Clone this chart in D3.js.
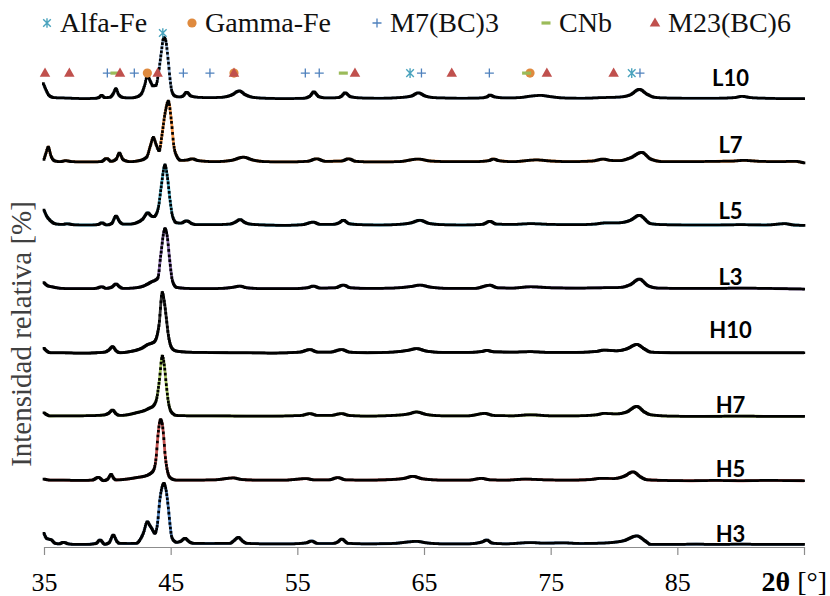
<!DOCTYPE html>
<html><head><meta charset="utf-8">
<script src="https://cdn.jsdelivr.net/npm/d3@7"></script>
<style>body{margin:0;background:#fff} svg{display:block}</style>
</head><body>
<svg id="chart" width="830" height="596"></svg>
<script>
// ---------- DATA ----------
const sampleNames = ["L10","L7","L5","L3","H10","H7","H5","H3"];
const sampleOffsets = [700,600,500,400,300,200,100,0];
const sampleColors = ["#95b3d7","#f79646","#4bacc6","#8064a2","#303030","#9bbb59","#c0504d","#4f81bd"];

const L10 = [[34.95,27.5],[35.15,18],[35.4,9],[35.8,5.5],[36.5,5],[37.2,4.5],[38.2,4],[39.1,4.5],[39.35,6],[39.55,9],[39.8,5.5],[40.2,6],[40.45,11],[40.68,19.5],[40.9,10],[41.3,5.5],[41.8,5],[42.3,6.5],[42.7,12],[42.95,25],[43.16,40],[43.4,31],[43.6,24],[43.84,25],[44.05,45],[44.25,75],[44.45,100],[44.6,96],[44.8,65],[44.95,35],[45.1,15],[45.35,8],[45.7,6.5],[46.0,8.5],[46.26,14],[46.6,8],[47.2,6],[48.0,5.5],[49.0,6],[49.8,9.5],[50.42,16],[50.9,10],[51.5,6],[52.5,4.5],[54,4],[55.5,4.5],[56.0,8],[56.3,14.5],[56.7,7],[57.3,5],[58.2,5.5],[58.5,8],[58.76,13],[59.2,7],[60,5],[61.5,4.5],[63,5.5],[64,8],[64.55,13],[65.1,8],[65.8,5.5],[66.5,5],[68,4.5],[69.5,5],[70.0,7],[70.2,9.5],[70.6,6.5],[71.5,5],[72.5,5.5],[73.5,8],[74.2,9],[75,7],[76,5],[77.5,4.5],[79,5.5],[80.5,6.5],[81.3,10],[82.0,18.5],[82.6,11],[83.2,6],[84,5],[86,4.5],[88,4.5],[89.5,5.5],[90.1,7.5],[90.8,5.5],[92,4.5],[93.5,4],[95,4]];
const L7 = [[35.0,8.6],[35.15,18],[35.34,28],[35.55,14],[35.87,6],[36.3,5],[36.7,6.5],[37.2,5],[38.3,4.5],[39.5,5],[39.95,10],[40.3,5.5],[40.7,9],[40.95,18.5],[41.25,8],[41.8,5],[42.5,6.5],[43.1,12],[43.4,30],[43.63,43],[43.85,32],[44.1,22],[44.3,45],[44.55,80],[44.82,100],[45.05,70],[45.25,30],[45.47,14],[45.8,7],[46.3,7.5],[46.7,9.5],[47.2,6.5],[48.5,5],[49.8,7],[50.74,12],[51.5,7.5],[52.5,5],[54,4.5],[55.8,5.5],[56.53,9.5],[57.2,5.5],[58.5,6],[59.03,9.5],[59.6,5.5],[61,4.5],[63,5],[64.55,9],[65.5,6],[67,5],[69,5],[70.1,6.5],[70.47,9.2],[70.9,6.5],[72,5],[73.9,7.7],[75,6],[76.5,5],[78.3,6],[79.15,9],[79.7,7],[80.4,6.5],[81.3,11],[82.19,19.5],[82.9,9],[83.9,5],[86,5],[88,5.5],[89.5,6],[90.2,7],[91.5,5.5],[93,5],[94.3,5.5],[95,3]];
const L5 = [[35.0,29],[35.2,20],[35.47,13],[36.0,7],[36.5,6.5],[36.8,7.5],[37.3,6],[37.9,5.5],[38.8,5.5],[39.3,6.5],[39.55,9],[39.95,5.5],[40.35,8],[40.68,19.5],[41.0,10],[41.26,7],[41.8,7],[42.3,9],[42.8,15],[43.2,24.8],[43.45,20],[43.66,18.5],[43.85,22],[44.05,35],[44.25,65],[44.55,100],[44.75,80],[44.95,45],[45.16,18.5],[45.47,9],[45.8,8.5],[46.26,12],[46.7,7.5],[47.05,6],[48.3,6],[49.68,7],[50.1,10],[50.47,14],[50.9,9],[51.26,7],[52.5,5.5],[54,5],[55.4,6],[56.26,10],[56.8,6.5],[57.8,6.5],[58.3,9],[58.63,13],[59.1,7.5],[60,6],[61.5,5.5],[63,6.5],[64,9],[64.68,13],[65.4,8],[66.5,6],[68,5.5],[69.6,6.5],[70.21,11.3],[70.7,7],[72,6.5],[73.4,7.6],[75,6.5],[77,6],[78.5,7],[79.2,8.7],[80.4,9],[81.3,13],[82.0,20.7],[82.9,7.6],[84,6],[86,5.5],[88,5.5],[90,6],[92,5.5],[93.5,7.6],[94.2,5.5],[95,5]];
const L3 = [[35.0,15],[35.3,10],[35.6,8.6],[36.4,6],[37.5,5.5],[38.7,5.5],[39.2,6.5],[39.55,8.6],[39.9,6],[40.35,8],[40.68,12.9],[41.0,8],[41.26,6],[42.0,6.5],[42.84,9.6],[43.2,13],[43.5,16.5],[43.8,19],[44.0,23],[44.2,55],[44.55,100],[44.75,85],[44.9,55],[45.16,16.5],[45.47,7.6],[46.26,6],[47.5,5.5],[49,6],[50.0,8],[50.47,9.6],[51,7],[52.5,5.5],[54.5,5.5],[55.8,7],[56.26,9.6],[56.8,6.5],[58,7],[58.63,11.2],[59.2,7],[60.5,6],[62.5,6.5],[64,9],[64.68,11.2],[65.5,8],[67,6],[69,6],[70.21,11],[70.8,7],[72,6.5],[73.4,8.6],[75,7],[77,6.5],[79,7],[80.5,7.5],[81.3,12],[82.0,20.6],[82.7,10],[83.5,6.5],[86,6],[88,6],[90,6.5],[92,6],[95,5]];
const H10 = [[35.0,12],[35.2,8],[35.47,5],[36.5,5],[37.5,4.5],[38.5,4.5],[39.16,5],[39.8,6],[40.1,9],[40.42,14.5],[40.7,8],[41.0,5],[41.7,6.5],[42.3,9],[42.8,13],[43.2,18],[43.5,20],[43.7,22],[43.9,30],[44.08,48.5],[44.34,100],[44.5,85],[44.66,59],[44.8,35],[44.97,18],[45.2,10],[45.47,7.6],[46.3,6],[47.5,5.5],[49.68,5],[51,5],[53,4.5],[55.2,6],[56,10],[56.6,6],[57.6,6],[58.5,10],[59.1,6],[60.5,5],[62.5,6],[63.8,9],[64.4,11.5],[65.2,7.5],[66.5,5.5],[68.5,5.5],[69.6,7],[69.95,8.7],[70.5,6.5],[72,6],[73.4,6.6],[75,5.5],[77,5.5],[78.6,7],[79.2,9.2],[80.2,8],[81,11],[81.8,18],[82.4,11],[82.9,6],[84.5,5],[87,5],[90,5],[92.5,5],[95,5]];
const H7 = [[35.0,10.8],[35.2,8],[35.47,5.7],[36.5,6],[37.8,6],[39.16,6.5],[39.8,7.5],[40.1,10],[40.42,15],[40.7,9],[41.0,6.5],[41.7,8],[42.3,10.8],[42.9,14],[43.3,17.7],[43.65,22],[43.9,33.4],[44.1,60],[44.34,100],[44.5,85],[44.66,54],[44.8,30],[44.97,15],[45.2,9],[45.47,6.5],[46.5,6],[48,6],[49.68,5.7],[51,5.5],[53,5.5],[55.3,6.5],[56,9.4],[56.6,6.5],[57.6,6.5],[58.5,9.4],[59.1,6.5],[60.5,5.5],[62.5,6.5],[63.8,9],[64.4,12],[65.2,8],[66.5,6],[68.5,6],[69.8,9.7],[70.5,6.5],[72,6],[73.4,7.6],[75,6],[77,6],[78.6,7.5],[79.2,9.7],[80.2,9],[81,12],[81.8,20.7],[82.4,12],[82.9,7.6],[84.5,5.5],[87,5],[90,5.5],[92.5,5],[95,5]];
const H5 = [[35.0,6.7],[35.5,5],[36.5,5],[37.8,4.5],[38.8,5],[39.3,9.3],[39.7,4],[40.05,7],[40.3,14],[40.5,8],[40.7,5.2],[41.5,6.5],[42.3,9],[42.9,11],[43.3,14],[43.66,20.9],[43.85,40],[44.0,75.8],[44.2,100],[44.32,95],[44.45,73],[44.56,45],[44.66,28.7],[44.8,15],[44.95,9],[45.47,5],[46.5,5],[48.5,5.5],[49.95,8.4],[50.6,6],[52,5],[54,5],[55.7,7.4],[56.3,5.5],[57.5,5.5],[58.2,9],[58.8,5.5],[60.5,5],[62.5,6],[63.5,8],[64.1,11],[64.9,7],[66.5,5],[68.5,5],[69.55,7.7],[70.2,5.5],[71.5,5],[73.0,6.6],[74.5,5.5],[76.5,5],[78.2,6],[78.9,7.7],[80,7.5],[80.8,11],[81.5,18],[82.1,10],[82.6,5.6],[84,4.5],[86,4],[88,4.5],[90,4],[92,4.5],[95,4]];
const H3 = [[35.0,21.5],[35.2,13.6],[35.45,12],[35.6,11],[35.87,5.8],[36.2,5],[36.53,7.4],[36.9,5],[37.3,4.2],[38.3,4],[39.1,5.5],[39.42,11],[39.8,4.2],[40.15,7],[40.47,18.8],[40.75,9],[40.95,5.8],[41.7,5.5],[42.3,5.8],[42.6,12],[42.84,21.5],[43.16,39.8],[43.35,34],[43.5,29.3],[43.76,21.5],[43.95,35],[44.16,76.4],[44.47,100],[44.65,88],[44.82,60.7],[44.95,35],[45.08,16],[45.3,9],[45.47,7.4],[45.8,9],[46.13,13.6],[46.45,8.5],[46.8,5.8],[48,5.5],[49.68,5.8],[50.0,10],[50.34,15],[50.7,9],[51,5.8],[52.5,5],[54.5,5],[55.7,6.5],[56.13,9.4],[56.6,5.5],[57.8,5.5],[58.2,8],[58.5,12.5],[59,5.8],[60.5,5],[62.5,5.5],[63.8,8],[64.4,8.9],[65.2,6.5],[66.5,5],[68.5,5],[69.6,8],[69.95,11],[70.4,6],[71.5,5],[73.4,7],[74.5,6],[76,6.5],[77.3,5.5],[78.9,6],[79.8,7],[80.8,10],[81.8,17.4],[82.5,9],[82.9,4],[84.5,4],[86.5,4.5],[88,4],[90,4.5],[92,4],[95,4]];
const patterns = [L10,L7,L5,L3,H10,H7,H5,H3];

// phase reference positions (2θ) and marker levels (intensity units)
const phaseNames = ["Alfa-Fe","Gamma-Fe","M7(BC)3","CNb","M23(BC)6"];
const phaseColors = ["#4aa3bd","#df8a3e","#4f81bd","#9bbb59","#c0504d"];
const alfaFe = [44.38, 63.9, 81.4];
const alfaFeLevel = [807, 744, 744];
const gammaFe = [43.16, 50.0, 73.37];
const m7bc3 = [40.0, 42.13, 46.0, 48.1, 55.63, 56.73, 64.8, 70.16, 82.05];
const cnb = [40.6, 58.63, 73.1];
const m23bc6 = [35.08, 37.0, 41.0, 43.97, 50.0, 59.55, 67.19, 74.7, 79.97];
const rowLevel = 744;

const tickValues = [35,45,55,65,75,85,95];
const tickLabels = ["35","45","55","65","75","85",""];

// ---------- LAYOUT ----------
const svg = d3.select('#chart');
const x = d3.scaleLinear().domain([35,95]).range([44,804]);
const y = d3.scaleLinear().domain([0,820]).range([547,24.7]);
const serif = "'Liberation Serif','Times New Roman',serif";

// axis
const gx = svg.append('g').attr('transform',`translate(0,${y(0)})`)
  .call(d3.axisBottom(x).tickValues(tickValues).tickFormat((d,i)=>tickLabels[i]).tickSize(8).tickSizeOuter(0));
gx.select('.domain').attr('stroke','#8c8c8c').attr('stroke-width',1.2);
gx.selectAll('.tick line').attr('stroke','#8c8c8c').attr('stroke-width',1.2);
gx.selectAll('.tick text').attr('font-family',serif).attr('font-size',26).attr('fill','#000').attr('y',44).attr('dy',0);

const axTitle = svg.append('text').attr('x',827).attr('y',591).attr('text-anchor','end')
  .attr('font-family',serif).attr('font-size',28).attr('fill','#000');
axTitle.append('tspan').attr('font-weight','bold').text('2θ');
axTitle.append('tspan').text(' [°]');

svg.append('text').attr('transform','translate(31,334) rotate(-90)').attr('text-anchor','middle')
  .attr('font-family',serif).attr('font-size',29).attr('fill','#404040').text('Intensidad relativa [%]');

// traces
const labelLift = [24,19,15,11,28,11,10,8];
const line = d3.line().curve(d3.curveMonotoneX);
patterns.forEach((pts,i)=>{
  const off = sampleOffsets[i];
  const g = svg.append('g');
  const p = g.append('path').attr('fill','none').attr('stroke',sampleColors[i]).attr('stroke-width',2.8)
    .attr('d', line(pts.map(d=>[x(d[0]), y(d[1]+off)])));
  const node = p.node(), L = node.getTotalLength();
  let lastX = -1e9, dm = '';
  const s2 = 1.35;
  for (let s=0; s<=L; s+=0.3){
    const q = node.getPointAtLength(s);
    if (q.x - lastX >= 0.5){ dm += `M${(q.x-s2).toFixed(2)},${(q.y-s2).toFixed(2)}h${2*s2}v${2*s2}h${-2*s2}z`; lastX = q.x; }
  }
  g.append('path').attr('d',dm).attr('fill','#000');
  svg.append('text').attr('x',x(89.2)).attr('y',y(off+labelLift[i])).attr('text-anchor','middle')
    .attr('font-family','Lato, sans-serif').attr('font-weight',700).attr('font-size',22).attr('fill','#000').text(sampleNames[i]);
});

// phase markers
const starPath = "M-3.8,-3.8L3.8,3.8M-3.8,3.8L3.8,-3.8M0,-4.8V4.8";
const plusPath = "M-4.5,0H4.5M0,-4.5V4.5";
const tri = d3.symbol(d3.symbolTriangle, 48)();
function drawMarker(g, k, cx, cy){
  if (k===0) g.append('path').attr('d',starPath).attr('transform',`translate(${cx},${cy})`).attr('stroke',phaseColors[0]).attr('stroke-width',1.4).attr('fill','none');
  if (k===1) g.append('circle').attr('cx',cx).attr('cy',cy).attr('r',4.6).attr('fill',phaseColors[1]);
  if (k===2) g.append('path').attr('d',plusPath).attr('transform',`translate(${cx},${cy})`).attr('stroke',phaseColors[2]).attr('stroke-width',1.3).attr('fill','none');
  if (k===3) g.append('rect').attr('x',cx-4.5).attr('y',cy-1.6).attr('width',9).attr('height',3.2).attr('fill',phaseColors[3]);
  if (k===4) g.append('path').attr('d',tri).attr('transform',`translate(${cx},${cy+0.5})`).attr('fill',phaseColors[4]);
}
const mg = svg.append('g');
alfaFe.forEach((t,j)=>drawMarker(mg,0,x(t),y(alfaFeLevel[j])));
gammaFe.forEach(t=>drawMarker(mg,1,x(t),y(rowLevel)));
m7bc3.forEach(t=>drawMarker(mg,2,x(t),y(rowLevel)));
cnb.forEach(t=>drawMarker(mg,3,x(t),y(rowLevel)));
m23bc6.forEach(t=>drawMarker(mg,4,x(t),y(rowLevel)));

// legend
const legendX = [47,192,377,546,655];
const lg = svg.append('g');
phaseNames.forEach((n,k)=>{
  drawMarker(lg,k,legendX[k],23);
  lg.append('text').attr('x',legendX[k]+13).attr('y',32).attr('font-family',serif).attr('font-size',28).attr('fill','#111').text(n);
});
</script>
</body></html>
